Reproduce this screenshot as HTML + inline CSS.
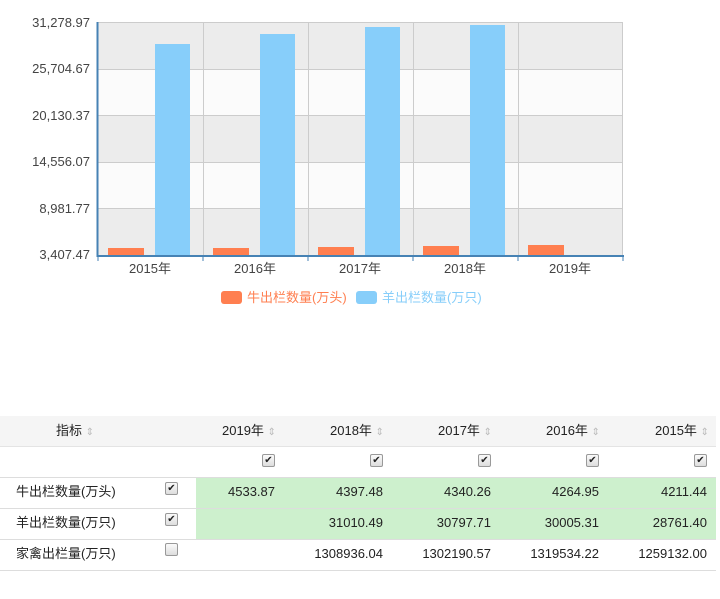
<!DOCTYPE html>
<html><head><meta charset="utf-8"><style>
body{margin:0;width:720px;height:599px;background:#fff;position:relative;overflow:hidden;font-family:"Liberation Sans","Noto Sans CJK SC",sans-serif;}
.a{position:absolute;}
.t{font-size:13px;color:#222;line-height:16px;}
.cb{position:absolute;width:11px;height:11px;border:1px solid #999;border-radius:2px;background:linear-gradient(#fafafa,#ddd);font-size:10px;line-height:11px;text-align:center;color:#222;}
.s{color:#bbb;font-size:10px;}
</style></head><body>
<svg class="a" style="left:0;top:0" width="720" height="320" font-family="Liberation Sans, Noto Sans CJK SC, sans-serif">
<rect x="98" y="22" width="525" height="47" fill="#ececec"/>
<rect x="98" y="69" width="525" height="46" fill="#fbfbfb"/>
<rect x="98" y="115" width="525" height="47" fill="#ececec"/>
<rect x="98" y="162" width="525" height="46" fill="#fbfbfb"/>
<rect x="98" y="208" width="525" height="47" fill="#ececec"/>
<g stroke="#ccc" stroke-width="1">
<line x1="98" y1="22.5" x2="623" y2="22.5"/><line x1="98" y1="69.5" x2="623" y2="69.5"/><line x1="98" y1="115.5" x2="623" y2="115.5"/><line x1="98" y1="162.5" x2="623" y2="162.5"/><line x1="98" y1="208.5" x2="623" y2="208.5"/>
<line x1="203.5" y1="22" x2="203.5" y2="255"/><line x1="308.5" y1="22" x2="308.5" y2="255"/><line x1="413.5" y1="22" x2="413.5" y2="255"/><line x1="518.5" y1="22" x2="518.5" y2="255"/><line x1="622.5" y1="22" x2="622.5" y2="255"/>
</g>
<g fill="#ff7f50">
<rect x="108" y="248" width="36" height="7"/><rect x="213" y="248" width="36" height="7"/><rect x="318" y="247" width="36" height="8"/><rect x="423" y="246" width="36" height="9"/><rect x="528" y="245" width="36" height="10"/>
</g>
<g fill="#87cefa">
<rect x="155" y="44" width="35" height="211"/><rect x="260" y="34" width="35" height="221"/><rect x="365" y="27" width="35" height="228"/><rect x="470" y="25" width="35" height="230"/>
</g>
<line x1="97.5" y1="22" x2="97.5" y2="257" stroke="#4682b4" stroke-width="2"/>
<line x1="97" y1="256" x2="624" y2="256" stroke="#4682b4" stroke-width="2"/>
<g stroke="#4682b4"><line x1="98" y1="256" x2="98" y2="261"/><line x1="203" y1="256" x2="203" y2="261"/><line x1="308" y1="256" x2="308" y2="261"/><line x1="413" y1="256" x2="413" y2="261"/><line x1="518" y1="256" x2="518" y2="261"/><line x1="623" y1="256" x2="623" y2="261"/></g>
<g font-size="13" fill="#444" text-anchor="end">
<text x="90" y="27">31,278.97</text><text x="90" y="73">25,704.67</text><text x="90" y="120">20,130.37</text><text x="90" y="166">14,556.07</text><text x="90" y="213">8,981.77</text><text x="90" y="259">3,407.47</text>
</g>
<g font-size="13" fill="#444" text-anchor="middle">
<text x="150" y="273">2015年</text><text x="255" y="273">2016年</text><text x="360" y="273">2017年</text><text x="465" y="273">2018年</text><text x="570" y="273">2019年</text>
</g>
<rect x="221" y="291" width="21" height="13" rx="3" fill="#ff7f50"/>
<text x="247" y="302" font-size="13" fill="#ff7f50">牛出栏数量(万头)</text>
<rect x="356" y="291" width="21" height="13" rx="3" fill="#87cefa"/>
<text x="382" y="302" font-size="13" fill="#87cefa">羊出栏数量(万只)</text>
</svg>

<div class="a" style="left:0;top:416px;width:716px;height:30px;background:#f5f5f5;border-bottom:1px solid #e4e4e4"></div>
<div class="a" style="left:196px;top:477px;width:520px;height:62px;background:#cdf0cd"></div>
<div class="a" style="left:0;top:477px;width:716px;border-top:1px solid #ddd"></div>
<div class="a" style="left:0;top:508px;width:716px;border-top:1px solid #ddd"></div>
<div class="a" style="left:0;top:539px;width:716px;border-top:1px solid #ddd"></div>
<div class="a" style="left:0;top:570px;width:716px;border-top:1px solid #ddd"></div>

<div class="a t" style="left:56px;top:423px">指标 <span class="s">⇕</span></div>
<div class="a t" style="left:222px;top:423px">2019年 <span class="s">⇕</span></div>
<div class="a t" style="left:330px;top:423px">2018年 <span class="s">⇕</span></div>
<div class="a t" style="left:438px;top:423px">2017年 <span class="s">⇕</span></div>
<div class="a t" style="left:546px;top:423px">2016年 <span class="s">⇕</span></div>
<div class="a t" style="left:655px;top:423px">2015年 <span class="s">⇕</span></div>

<div class="cb" style="left:262px;top:454px">✔</div>
<div class="cb" style="left:370px;top:454px">✔</div>
<div class="cb" style="left:478px;top:454px">✔</div>
<div class="cb" style="left:586px;top:454px">✔</div>
<div class="cb" style="left:694px;top:454px">✔</div>
<div class="cb" style="left:165px;top:482px">✔</div>
<div class="cb" style="left:165px;top:513px">✔</div>
<div class="cb" style="left:165px;top:543px"></div>

<div class="a t" style="left:16px;top:484px">牛出栏数量(万头)</div>
<div class="a t" style="left:16px;top:515px">羊出栏数量(万只)</div>
<div class="a t" style="left:16px;top:546px">家禽出栏量(万只)</div>

<div class="a t" style="left:175px;top:484px;width:100px;text-align:right">4533.87</div>
<div class="a t" style="left:283px;top:484px;width:100px;text-align:right">4397.48</div>
<div class="a t" style="left:391px;top:484px;width:100px;text-align:right">4340.26</div>
<div class="a t" style="left:499px;top:484px;width:100px;text-align:right">4264.95</div>
<div class="a t" style="left:607px;top:484px;width:100px;text-align:right">4211.44</div>
<div class="a t" style="left:283px;top:515px;width:100px;text-align:right">31010.49</div>
<div class="a t" style="left:391px;top:515px;width:100px;text-align:right">30797.71</div>
<div class="a t" style="left:499px;top:515px;width:100px;text-align:right">30005.31</div>
<div class="a t" style="left:607px;top:515px;width:100px;text-align:right">28761.40</div>
<div class="a t" style="left:283px;top:546px;width:100px;text-align:right">1308936.04</div>
<div class="a t" style="left:391px;top:546px;width:100px;text-align:right">1302190.57</div>
<div class="a t" style="left:499px;top:546px;width:100px;text-align:right">1319534.22</div>
<div class="a t" style="left:607px;top:546px;width:100px;text-align:right">1259132.00</div>
</body></html>
